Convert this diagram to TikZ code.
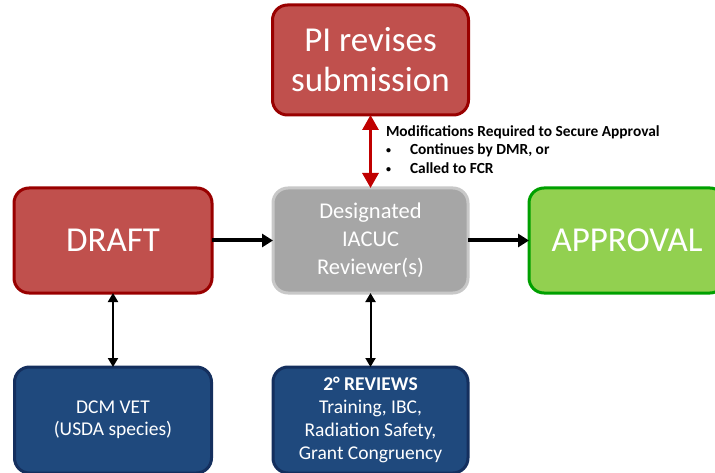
\documentclass[tikz,border=0pt]{standalone}
\usepackage{fontspec}
\setmainfont{Carlito}
\usetikzlibrary{arrows.meta, positioning}

\definecolor{boxred}{HTML}{C0504D}
\definecolor{edgered}{HTML}{990000}
\definecolor{boxgrey}{HTML}{A6A6A6}
\definecolor{edgegrey}{HTML}{C8C8C8}
\definecolor{boxgreen}{HTML}{92D050}
\definecolor{edgegreen}{HTML}{00A000}
\definecolor{boxblue}{HTML}{1F497D}
\definecolor{edgeblue}{HTML}{142F5E}
\definecolor{arrowred}{HTML}{C00000}

\newcommand{\smallbullet}{\makebox[24pt][l]{\raisebox{1pt}{\fontsize{10}{10}\selectfont\textbullet}}}

\tikzset{
  stage/.style={draw, rounded corners=15pt, line width=3pt, text=white, align=center, outer sep=0pt, inner sep=2pt},
  bigtext/.style={font=\fontsize{35}{40}\selectfont},
  flow/.style={-{Triangle[length=11pt, width=13pt]}, line width=4pt},
  link/.style={{Triangle[length=9pt, width=10pt]}-{Triangle[length=9pt, width=10pt]}, line width=2pt},
}

\begin{document}
\begin{tikzpicture}[x=1pt, y=-1pt]
    \useasboundingbox (0,0) rectangle (715,473);

    \node[stage, fill=boxgrey, draw=edgegrey, minimum width=195pt, minimum height=105pt, font=\fontsize{22.5}{28}\selectfont] (rev) at (370.5,240.5) {Designated\\IACUC\\Reviewer(s)};
    \node[stage, bigtext, fill=boxred, draw=edgered, minimum width=198pt, minimum height=105pt, left=61pt of rev] (draft) {DRAFT};
    \node[stage, bigtext, fill=boxgreen, draw=edgegreen, minimum width=196pt, minimum height=105pt, right=61pt of rev] (approval) {APPROVAL};
    \node[stage, bigtext, fill=boxred, draw=edgered, minimum width=196pt, minimum height=110pt, above=73pt of rev] (pi) {PI revises\\submission};

    \node[stage, fill=boxblue, draw=edgeblue, minimum width=197pt, minimum height=106pt, font=\fontsize{19.5}{22}\selectfont, below=74pt of draft] (vet) {DCM VET\\(USDA species)};
    \node[stage, fill=boxblue, draw=edgeblue, minimum width=195pt, minimum height=106pt, font=\fontsize{19.5}{23}\selectfont, below=74pt of rev] (sec) {\textbf{2° REVIEWS}\\Training, IBC,\\Radiation Safety,\\Grant Congruency};

    \draw[flow] (draft) -- (rev);
    \draw[flow] (rev) -- (approval);
    \draw[link] (draft) -- (vet);
    \draw[link] (rev) -- (sec);

    \draw[{Triangle[length=15pt, width=16pt]}-{Triangle[length=15pt, width=16pt]}, line width=3pt, arrowred] (pi) -- (rev)
      node[pos=0.47, right=14pt, anchor=west, align=left, inner sep=0pt, text=black, font=\bfseries\fontsize{15.4}{18.5}\selectfont] (mods)
      {Modifications Required to Secure Approval\\
       \smallbullet Continues by DMR, or\\
       \smallbullet Called to FCR};
\end{tikzpicture}
\end{document}
